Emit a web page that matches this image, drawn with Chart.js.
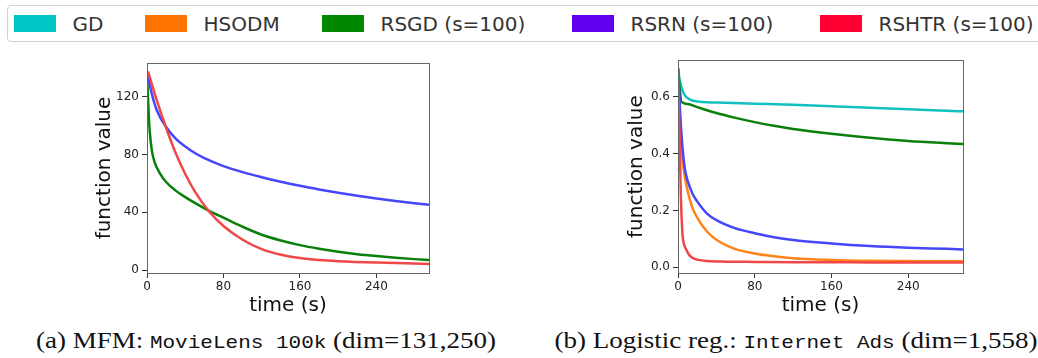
<!DOCTYPE html>
<html><head><meta charset="utf-8">
<script src="https://cdn.jsdelivr.net/npm/chart.js@4.4.1/dist/chart.umd.min.js"></script>
<style>
html,body{margin:0;padding:0;background:#fff;width:1038px;height:358px;overflow:hidden;position:relative;font-family:"DejaVu Sans",sans-serif;}
#legend{position:absolute;left:7px;top:5px;width:1045px;height:37px;border:1.5px solid #d0d0d0;border-radius:4px;box-sizing:border-box;}
.item{position:absolute;top:0;height:100%;display:flex;align-items:center;}
.patch{width:42px;height:17px;}
.lbl{font-size:20px;color:#333;margin-left:17px;white-space:nowrap;}
canvas{position:absolute;}
.cap{position:absolute;top:328px;font-family:"Liberation Serif",serif;font-size:22.5px;white-space:nowrap;transform:translateX(-50%) scaleX(1.2);color:#111;}
.cap .m{font-family:"Liberation Mono",monospace;font-size:17.5px;}
</style></head>
<body>
<div id="legend"></div>
<canvas id="c1" width="450" height="270" style="left:0px;top:50px;width:450px;height:270px"></canvas>
<canvas id="c2" width="498" height="270" style="left:540px;top:50px;width:498px;height:270px"></canvas>
<div class="cap" style="left:266px">(a) MFM: <span class="m">MovieLens 100k</span> (dim=131,250)</div>
<div class="cap" style="left:796px">(b) Logistic reg.: <span class="m">Internet Ads</span> (dim=1,558)</div>
<script>
// ---------- data ----------
const seriesNames = ['GD', 'HSODM', 'RSGD (s=100)', 'RSRN (s=100)', 'RSHTR (s=100)'];
const xTicks = [0, 80, 160, 240];
const yTicksLeft = [0, 40, 80, 120];
const yTicksRight = [0.0, 0.2, 0.4, 0.6];

// (a) MovieLens 100k
const tA_RSGD  = [0, 1, 2, 3, 5, 8, 13.5, 20, 30, 40, 50, 65, 80, 100, 120, 140, 160, 180, 200, 220, 240, 260, 280, 295];
const yA_RSGD  = [137, 120, 105, 95, 83, 74.5, 67, 61, 55, 50.5, 46.5, 41, 36.3, 30, 24.5, 20.5, 17.3, 14.8, 12.7, 11, 9.7, 8.6, 7.6, 7];
const tA_RSRN  = [0, 5, 10, 20, 30, 40, 50, 60, 80, 100, 120, 140, 160, 180, 200, 220, 240, 260, 280, 295];
const yA_RSRN  = [137, 122, 111, 99, 91, 85.5, 81, 77.5, 72, 67.8, 64.3, 61.1, 58.3, 55.8, 53.5, 51.4, 49.5, 47.8, 46.3, 45.3];
const tA_RSHTR = [1, 10, 20, 30, 40, 50, 65, 80, 100, 120, 140, 160, 180, 200, 240, 270, 295];
const yA_RSHTR = [137.5, 118, 98.5, 81, 66.5, 54.5, 40.5, 30.5, 21, 14.5, 10.6, 8.3, 7, 6.2, 5.2, 4.7, 4.3];

// (b) Internet Ads
const tB_GD    = [0, 1, 2, 3.5, 6, 9, 15, 25, 40, 80, 120, 160, 200, 240, 280, 297];
const yB_GD    = [0.70, 0.675, 0.655, 0.635, 0.612, 0.598, 0.587, 0.582, 0.580, 0.576, 0.572, 0.567, 0.562, 0.556, 0.551, 0.549];
const tB_HSODM = [0, 1, 2, 3, 5, 7, 10, 15, 20, 30, 40, 60, 80, 100, 120, 160, 200, 240, 280, 297];
const yB_HSODM = [0.70, 0.60, 0.52, 0.46, 0.37, 0.32, 0.27, 0.21, 0.175, 0.127, 0.097, 0.064, 0.049, 0.039, 0.032, 0.026, 0.023, 0.022, 0.021, 0.021];
const tB_RSGD  = [0, 1, 2, 3.5, 10, 20, 40, 60, 80, 100, 120, 160, 200, 240, 280, 297];
const yB_RSGD  = [0.70, 0.66, 0.62, 0.582, 0.575, 0.564, 0.543, 0.526, 0.511, 0.498, 0.487, 0.470, 0.456, 0.445, 0.437, 0.434];
const tB_RSRN  = [0, 1, 2, 3, 5, 7, 10, 15, 20, 30, 40, 60, 80, 100, 120, 160, 200, 240, 280, 297];
const yB_RSRN  = [0.70, 0.63, 0.56, 0.50, 0.41, 0.35, 0.305, 0.26, 0.232, 0.19, 0.166, 0.137, 0.12, 0.106, 0.096, 0.084, 0.075, 0.069, 0.065, 0.063];
const tB_RSHTR = [0, 1, 2, 3, 4.6, 6, 8.8, 12, 15.7, 20, 30, 50, 80, 120, 160, 200, 240, 297];
const yB_RSHTR = [0.70, 0.55, 0.40, 0.25, 0.12, 0.085, 0.061, 0.042, 0.032, 0.027, 0.022, 0.020, 0.019, 0.018, 0.018, 0.017, 0.017, 0.017];

// ---------- styles ----------
const patchColors = ['#00C5C5', '#FF7400', '#008800', '#6000EE', '#FF0033'];
const lineColors  = ['#11C0C0', '#FF8418', '#0A800A', '#4646FA', '#F04848'];
const legendLefts = [14, 145, 322, 572, 820];

const lg = document.getElementById('legend');
seriesNames.forEach((n, i) => {
  const it = document.createElement('div');
  it.className = 'item';
  it.style.left = (legendLefts[i] - 8.5) + 'px';
  it.innerHTML = '<div class="patch" style="background:' + patchColors[i] + '"></div><div class="lbl">' + n + '</div>';
  lg.appendChild(it);
});

const frame = {
  id: 'frame',
  afterDraw(c) {
    const a = c.chartArea, ctx = c.ctx;
    ctx.save();
    ctx.strokeStyle = '#666';
    ctx.lineWidth = 1;
    ctx.strokeRect(Math.round(a.left) + 0.5, Math.round(a.top) + 0.5, Math.round(a.right - a.left), Math.round(a.bottom - a.top));
    ctx.restore();
  }
};

function ds(idx, t, y) {
  return {
    label: seriesNames[idx],
    data: t.map((x, i) => ({x: x, y: y[i]})),
    borderColor: lineColors[idx],
    borderWidth: 2.5,
    pointRadius: 0,
    fill: false,
    cubicInterpolationMode: 'monotone',
    order: 10 - idx
  };
}

function makeChart(id, datasets, xMax, yMin, yMax, yTicks, fmt, yWidth, titlePad, pad) {
  return new Chart(document.getElementById(id), {
    type: 'line',
    data: {datasets: datasets},
    plugins: [frame],
    options: {
      responsive: false,
      animation: false,
      devicePixelRatio: 1,
      layout: {padding: pad},
      plugins: {legend: {display: false}, tooltip: {enabled: false}},
      scales: {
        x: {
          type: 'linear', min: 0, max: xMax,
          afterBuildTicks: s => { s.ticks = xTicks.map(v => ({value: v})); },
          afterFit: s => { s.height = 47; },
          grid: {display: true, drawOnChartArea: false, drawTicks: true, tickLength: 5, color: '#333'},
          border: {display: false},
          ticks: {font: {family: 'DejaVu Sans', size: 12}, color: '#222', padding: 2, maxRotation: 0},
          title: {display: true, text: 'time (s)', font: {family: 'DejaVu Sans', size: 20}, color: '#111', padding: {top: 0, bottom: 2}}
        },
        y: {
          type: 'linear', min: yMin, max: yMax,
          afterBuildTicks: s => { s.ticks = yTicks.map(v => ({value: v})); },
          afterFit: s => { s.width = yWidth; },
          grid: {display: true, drawOnChartArea: false, drawTicks: true, tickLength: 5, color: '#333'},
          border: {display: false},
          ticks: {font: {family: 'DejaVu Sans', size: 12}, color: '#222', padding: 3, callback: fmt},
          title: {display: true, text: 'function value', font: {family: 'DejaVu Sans', size: 20}, color: '#111', padding: {top: titlePad, bottom: 0}}
        }
      }
    }
  });
}

makeChart('c1', [ds(2, tA_RSGD, yA_RSGD), ds(3, tA_RSRN, yA_RSRN), ds(4, tA_RSHTR, yA_RSHTR)],
  295, -2, 143.3, yTicksLeft, v => String(Math.round(v)), 147, 93, {top: 13, right: 21, left: 0, bottom: 0});

makeChart('c2', [ds(0, tB_GD, yB_GD), ds(1, tB_HSODM, yB_HSODM), ds(2, tB_RSGD, yB_RSGD), ds(3, tB_RSRN, yB_RSRN), ds(4, tB_RSHTR, yB_RSHTR)],
  297, -0.02, 0.729, yTicksRight, v => v.toFixed(1), 138, 85, {top: 10, right: 75, left: 0, bottom: 0});
</script>
</body></html>
